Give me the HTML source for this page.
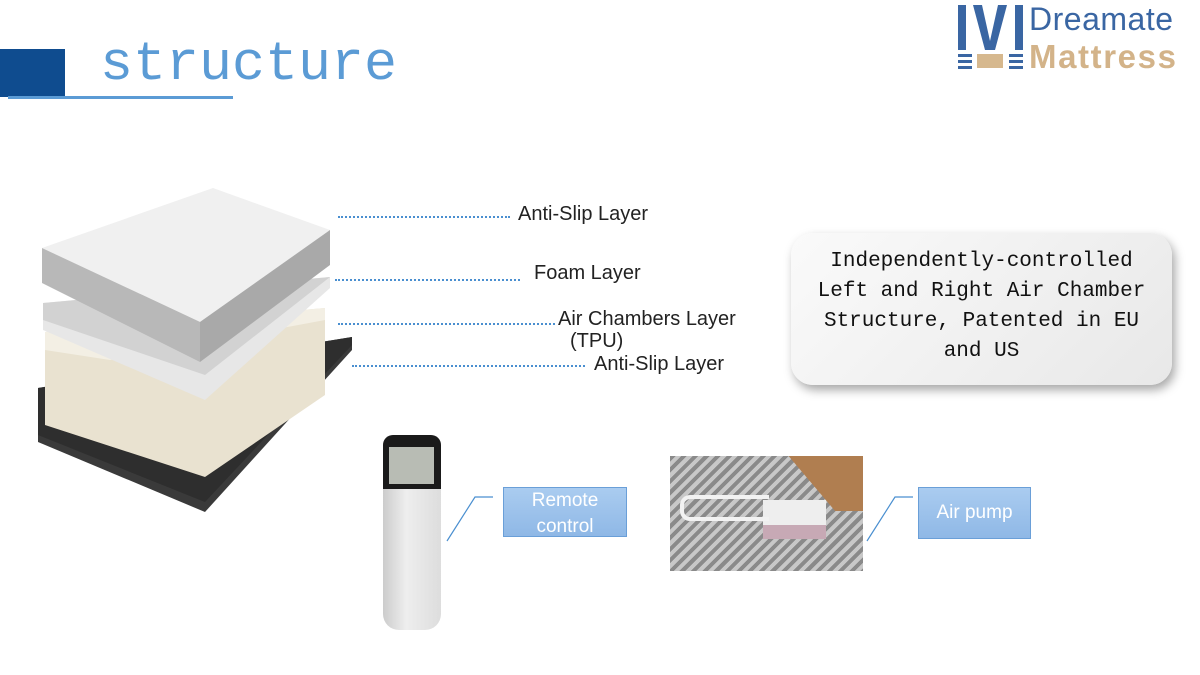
<!DOCTYPE html>
<html><head><meta charset="utf-8"><style>
body{margin:0;width:1200px;height:675px;background:#fff;position:relative;overflow:hidden;font-family:"Liberation Sans",sans-serif}
.a{position:absolute}
.lbl{position:absolute;font-size:20px;color:#222;white-space:nowrap}
.dot{position:absolute;border-top:2px dotted #4a8fd0;height:0}
.box{position:absolute;background:linear-gradient(#aaccf0,#8fb8e6);border:1px solid #6a9fd8;color:#fff;font-size:19px;text-align:center;line-height:26px}
</style></head><body>
<div class="a" style="left:0;top:49px;width:65px;height:48px;background:#0f4c8f"></div>
<div class="a" style="left:8px;top:96px;width:225px;height:3px;background:#5b9bd5"></div>
<div class="a" style="left:100px;top:30px;font-family:'Liberation Mono',monospace;font-size:55px;color:#5b9bd5;line-height:70px">structure</div>
<!-- logo -->
<svg class="a" style="left:955px;top:3px" width="72" height="68">
<rect x="3" y="2" width="8" height="45" fill="#3a66a3"/>
<polygon points="18,2 27,2 35,38 43,2 52,2 40,47 30,47" fill="#3a66a3"/>
<rect x="60" y="2" width="8" height="45" fill="#3a66a3"/>
<rect x="3" y="51" width="14" height="3" fill="#3a66a3"/><rect x="3" y="57" width="14" height="3" fill="#3a66a3"/><rect x="3" y="63" width="14" height="3" fill="#3a66a3"/>
<rect x="54" y="51" width="14" height="3" fill="#3a66a3"/><rect x="54" y="57" width="14" height="3" fill="#3a66a3"/><rect x="54" y="63" width="14" height="3" fill="#3a66a3"/>
<rect x="22" y="51" width="26" height="14" fill="#d6b88e"/>
</svg>
<div class="a" style="left:1029px;top:0px;font-size:32px;letter-spacing:0.5px;color:#3a66a3;line-height:38px">Dreamate</div>
<div class="a" style="left:1029px;top:37px;font-size:33px;letter-spacing:1.6px;font-weight:bold;color:#d3b389;line-height:40px">Mattress</div>
<!-- mattress -->
<svg class="a" style="left:0;top:180px" width="370" height="340">
<polygon points="38,208 352,157 352,170 205,332 38,262" fill="#3a3a3a"/>
<polygon points="38,208 352,157 352,165 205,322 38,255" fill="#2e2e2e"/>
<polygon points="45,152 325,128 325,215 205,297 45,245" fill="#e9e2d0"/>
<polygon points="45,152 325,128 325,140 110,180 45,170" fill="#f3efe4"/>
<polygon points="43,123 330,97 330,108 205,220 43,150" fill="#e7e7e7"/>
<polygon points="43,123 330,97 205,195 43,140" fill="#d2d2d2"/>
<polygon points="213,8 330,50 200,142 42,68" fill="#f0f0f0"/>
<polygon points="42,68 200,142 200,182 42,103" fill="#b8b8b8"/>
<polygon points="200,142 330,50 330,85 200,182" fill="#a9a9a9"/>
</svg>
<div class="dot" style="left:338px;top:216px;width:172px"></div>
<div class="dot" style="left:335px;top:279px;width:185px"></div>
<div class="dot" style="left:338px;top:323px;width:217px"></div>
<div class="dot" style="left:352px;top:365px;width:233px"></div>
<div class="lbl" style="left:518px;top:203px">Anti-Slip Layer</div>
<div class="lbl" style="left:534px;top:262px">Foam Layer</div>
<div class="lbl" style="left:558px;top:308px">Air Chambers Layer</div>
<div class="lbl" style="left:570px;top:330px">(TPU)</div>
<div class="lbl" style="left:594px;top:353px">Anti-Slip Layer</div>
<!-- text box -->
<div class="a" style="left:791px;top:233px;width:381px;height:152px;border-radius:22px;background:linear-gradient(135deg,#fafafa,#e8e8e8);box-shadow:3px 5px 10px rgba(0,0,0,0.35);"></div>
<div class="a" style="left:791px;top:247px;width:381px;text-align:center;font-family:'Liberation Mono',monospace;font-size:21px;line-height:30px;color:#111">Independently-controlled<br>Left and Right Air Chamber<br>Structure, Patented in EU<br>and US</div>
<!-- remote -->
<div class="a" style="left:383px;top:435px;width:58px;height:195px;border-radius:10px 10px 16px 16px;background:linear-gradient(90deg,#ccc,#eee 40%,#ddd);"></div>
<div class="a" style="left:383px;top:435px;width:58px;height:54px;border-radius:10px 10px 0 0;background:#1a1a1a"></div>
<div class="a" style="left:389px;top:447px;width:45px;height:37px;background:#b8bcb4"></div>
<svg class="a" style="left:445px;top:495px" width="50" height="50"><polyline points="2,46 30,2 48,2" fill="none" stroke="#4a8fd0" stroke-width="1.2"/></svg>
<div class="box" style="left:503px;top:487px;width:122px;height:48px">Remote<br>control</div>
<!-- pump -->
<div class="a" style="left:670px;top:456px;width:193px;height:115px;background:repeating-linear-gradient(135deg,#8a8a8a 0 4px,#c8c8c8 4px 8px)"></div>
<div class="a" style="left:770px;top:456px;width:93px;height:55px;background:#b07e50;clip-path:polygon(20% 0,100% 0,100% 100%,70% 100%)"></div>
<div class="a" style="left:763px;top:500px;width:63px;height:25px;background:#eee"></div>
<div class="a" style="left:763px;top:525px;width:63px;height:14px;background:#c7a9b5"></div>
<div class="a" style="left:680px;top:495px;width:85px;height:18px;border:4px solid #f2f2f2;border-right:none;border-radius:10px 0 0 10px"></div>
<svg class="a" style="left:865px;top:495px" width="50" height="50"><polyline points="2,46 30,2 48,2" fill="none" stroke="#4a8fd0" stroke-width="1.2"/></svg>
<div class="box" style="left:918px;top:487px;width:111px;height:50px;line-height:50px">Air pump</div>
</body></html>
